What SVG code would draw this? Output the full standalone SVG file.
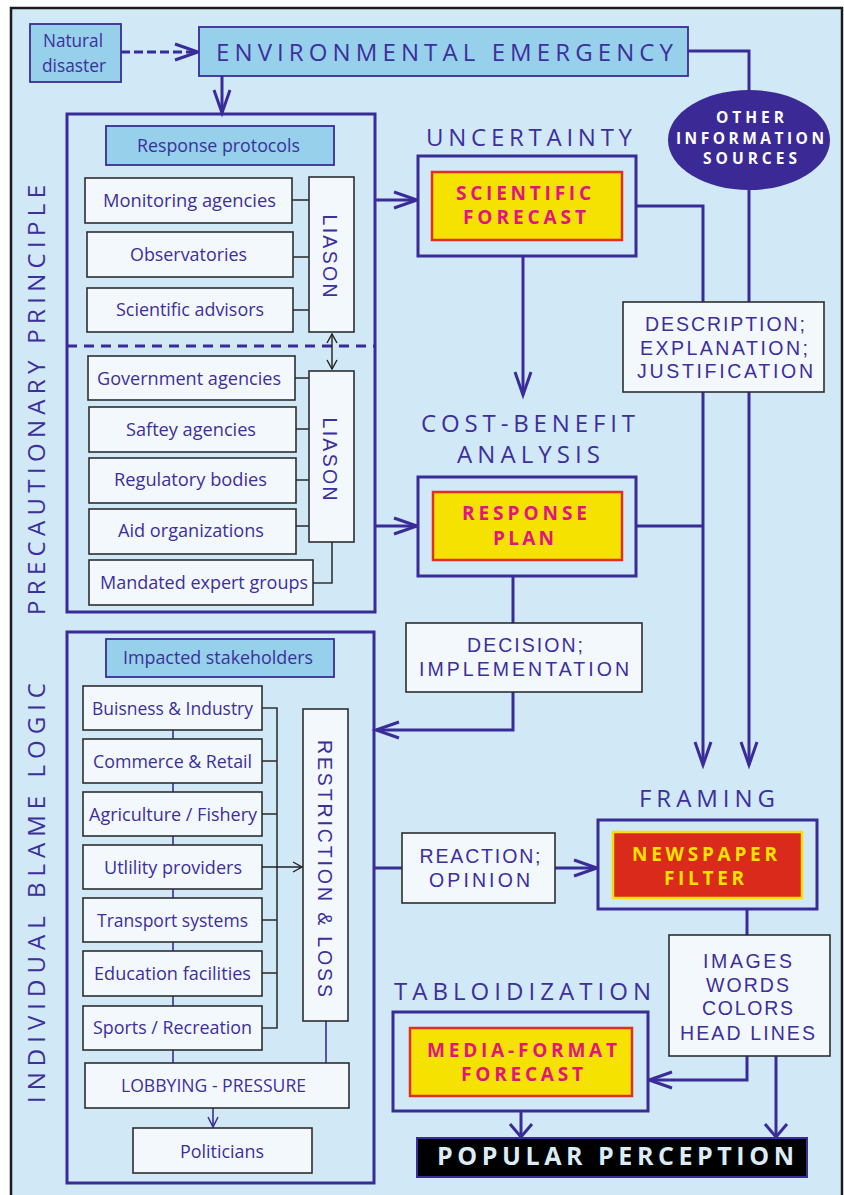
<svg xmlns="http://www.w3.org/2000/svg" width="844" height="1195" viewBox="0 0 844 1195">
  <style>
    .t { font-family: "Open Sans", "Liberation Sans", sans-serif; fill: #3d2f9c; font-size: 18.5px; text-anchor: middle; }
    .hd { font-size: 24px; }
    .cp { font-family: "Liberation Sans", "Open Sans", sans-serif; font-size: 19.5px; }
    .bd { font-weight: bold; }
    .mag { fill: #e2157f; font-size: 19px; }
    .ylw { fill: #f8e300; font-size: 19px; }
    .wht { fill: #ffffff; font-size: 15.5px; }
    .pop { fill: #dcecf7; font-size: 25px; }
    .ln { fill: none; stroke: #3a2c98; stroke-width: 3; }
    .lt { fill: none; stroke: #3a2c98; stroke-width: 1.6; }
    .gl { fill: none; stroke: #333333; stroke-width: 1.6; }
    .box { fill: #f3f8fd; stroke: #2e2e2e; stroke-width: 1.6; }
    .blue { fill: #96d0eb; stroke: #3a2c98; stroke-width: 1.8; }
    .frame { fill: #d1e8f6; stroke: #3a2c98; stroke-width: 3; }
    .yel { fill: #f6e200; stroke: #e0301f; stroke-width: 2.5; }
  </style>
  <defs>
    <marker id="arr" markerUnits="userSpaceOnUse" viewBox="-26 -11 28 22" refX="0" refY="0" markerWidth="28" markerHeight="22" orient="auto" overflow="visible">
      <path d="M-23,-8 L0,0 L-23,8" fill="none" stroke="#3a2c98" stroke-width="3"/>
    </marker>
    <marker id="arrw" markerUnits="userSpaceOnUse" viewBox="-16 -13 18 26" refX="0" refY="0" markerWidth="18" markerHeight="26" orient="auto" overflow="visible">
      <path d="M-13,-11 L0,0 L-13,11" fill="none" stroke="#3a2c98" stroke-width="3"/>
    </marker>
    <marker id="arrk" markerUnits="userSpaceOnUse" viewBox="-12 -7 14 14" refX="0" refY="0" markerWidth="14" markerHeight="14" orient="auto-start-reverse" overflow="visible">
      <path d="M-9,-5 L0,0 L-9,5" fill="none" stroke="#222222" stroke-width="1.4"/>
    </marker>
    <marker id="arrp" markerUnits="userSpaceOnUse" viewBox="-12 -7 14 14" refX="0" refY="0" markerWidth="14" markerHeight="14" orient="auto" overflow="visible">
      <path d="M-10,-5 L0,0 L-10,5" fill="none" stroke="#3a2c98" stroke-width="1.5"/>
    </marker>
  </defs>

  <!-- page frame -->
  <rect x="0" y="0" width="844" height="1195" fill="#ffffff"/>
  <rect x="11" y="8" width="831" height="1200" fill="#d1e8f6" stroke="#1c1c1c" stroke-width="2.5"/>

  <!-- side labels -->
  <text class="t hd" x="45" y="400" transform="rotate(-90 45 400)" textLength="430" lengthAdjust="spacing">PRECAUTIONARY PRINCIPLE</text>
  <text class="t hd" x="45" y="893" transform="rotate(-90 45 893)" textLength="420" lengthAdjust="spacing">INDIVIDUAL BLAME LOGIC</text>

  <!-- section headings -->
  <text class="t hd" x="529" y="146" textLength="206" lengthAdjust="spacing">UNCERTAINTY</text>
  <text class="t hd" x="528" y="432" textLength="214" lengthAdjust="spacing">COST-BENEFIT</text>
  <text class="t hd" x="528.5" y="463" textLength="143" lengthAdjust="spacing">ANALYSIS</text>
  <text class="t hd" x="707" y="807" textLength="136" lengthAdjust="spacing">FRAMING</text>
  <text class="t hd" x="522.5" y="1000" textLength="257" lengthAdjust="spacing">TABLOIDIZATION</text>

  <!-- connectors -->
  <g id="connectors">
    <line x1="121" y1="52" x2="198" y2="52" class="ln" stroke-dasharray="9 4" marker-end="url(#arr)"/>
    <line x1="222" y1="76" x2="222" y2="113" class="ln" marker-end="url(#arr)"/>
    <polyline points="688,51 749,51 749,91" class="ln"/>
    <line x1="749" y1="189" x2="749" y2="765" class="ln" marker-end="url(#arr)"/>
    <line x1="375" y1="200" x2="417" y2="200" class="ln" marker-end="url(#arr)"/>
    <polyline points="636,206 703,206 703,765" class="ln" marker-end="url(#arr)"/>
    <line x1="523" y1="256" x2="523" y2="395" class="ln" marker-end="url(#arr)"/>
    <line x1="375" y1="526" x2="417" y2="526" class="ln" marker-end="url(#arr)"/>
    <line x1="636" y1="526" x2="703" y2="526" class="ln"/>
    <line x1="513" y1="576" x2="513" y2="623" class="ln"/>
    <polyline points="513,692 513,730 376,730" class="ln" marker-end="url(#arr)"/>
    <line x1="374" y1="868" x2="402" y2="868" class="ln"/>
    <line x1="555" y1="868" x2="597" y2="868" class="ln" marker-end="url(#arr)"/>
    <line x1="747" y1="909" x2="747" y2="935" class="ln"/>
    <polyline points="747,1056 747,1080 649,1080" class="ln" marker-end="url(#arr)"/>
    <line x1="776" y1="1056" x2="776" y2="1137" class="ln" marker-end="url(#arrw)"/>
    <line x1="521" y1="1111" x2="521" y2="1137" class="ln" marker-end="url(#arrw)"/>

    <!-- agency ties to the liaison bars -->
    <line x1="67" y1="346" x2="375" y2="346" class="ln" stroke-width="2.5" stroke-dasharray="10 7"/>
    <line x1="292" y1="200" x2="309" y2="200" class="gl"/>
    <line x1="293" y1="257" x2="309" y2="257" class="gl"/>
    <line x1="293" y1="310" x2="309" y2="310" class="gl"/>
    <line x1="295" y1="378" x2="309" y2="378" class="gl"/>
    <line x1="296" y1="429" x2="309" y2="429" class="gl"/>
    <line x1="296" y1="480" x2="309" y2="480" class="gl"/>
    <line x1="296" y1="526" x2="309" y2="526" class="gl"/>
    <polyline points="313,583 332,583 332,542" class="gl"/>
    <line x1="332" y1="334" x2="332" y2="369" stroke="#222222" stroke-width="1.4" marker-start="url(#arrk)" marker-end="url(#arrk)"/>

    <!-- stakeholder ties -->
    <line x1="173" y1="730" x2="173" y2="1063" class="lt"/>
    <polyline points="262,708 277,708 277,1028 262,1028" class="gl"/>
    <line x1="262" y1="761" x2="277" y2="761" class="gl"/>
    <line x1="262" y1="814" x2="277" y2="814" class="gl"/>
    <line x1="262" y1="920" x2="277" y2="920" class="gl"/>
    <line x1="262" y1="973" x2="277" y2="973" class="gl"/>
    <line x1="262" y1="867" x2="302" y2="867" stroke="#222222" stroke-width="1.4" marker-end="url(#arrk)"/>
    <line x1="326" y1="1021" x2="326" y2="1063" class="lt"/>
    <line x1="213" y1="1108" x2="213" y2="1127" class="lt" marker-end="url(#arrp)"/>
  </g>

  <!-- nodes -->
  <g id="natural-disaster">
    <rect x="30" y="24" width="91" height="58" class="blue"/>
    <text class="t" x="73" y="47" textLength="60" lengthAdjust="spacingAndGlyphs">Natural</text>
    <text class="t" x="74" y="72" textLength="64" lengthAdjust="spacingAndGlyphs">disaster</text>
  </g>
  <g id="environmental-emergency">
    <rect x="199" y="27" width="489" height="49" class="blue" stroke-width="3"/>
    <text class="t hd" x="444.5" y="61" textLength="457" lengthAdjust="spacing">ENVIRONMENTAL  EMERGENCY</text>
  </g>

  <g id="precautionary-block">
    <rect x="67" y="114" width="308" height="498" fill="none" stroke="#3a2c98" stroke-width="3"/>
  </g>
  <g id="response-protocols">
    <rect x="106" y="126" width="228" height="39" class="blue"/>
    <text class="t" x="218.5" y="152" textLength="163" lengthAdjust="spacingAndGlyphs">Response protocols</text>
  </g>
  <g id="monitoring-agencies">
    <rect x="85" y="178" width="207" height="45" class="box"/>
    <text class="t" x="189.5" y="207" textLength="173" lengthAdjust="spacingAndGlyphs">Monitoring agencies</text>
  </g>
  <g id="observatories">
    <rect x="87" y="232" width="206" height="45" class="box"/>
    <text class="t" x="188.5" y="261" textLength="117" lengthAdjust="spacingAndGlyphs">Observatories</text>
  </g>
  <g id="scientific-advisors">
    <rect x="87" y="288" width="206" height="44" class="box"/>
    <text class="t" x="190" y="316" textLength="148" lengthAdjust="spacingAndGlyphs">Scientific advisors</text>
  </g>
  <g id="liason-science">
    <rect x="309" y="177" width="45" height="155" class="box"/>
    <text class="t cp" x="323" y="256" transform="rotate(90 323 256)" textLength="83" lengthAdjust="spacing">LIASON</text>
  </g>
  <g id="government-agencies">
    <rect x="88" y="356" width="207" height="44" class="box"/>
    <text class="t" x="189" y="385" textLength="184" lengthAdjust="spacingAndGlyphs">Government agencies</text>
  </g>
  <g id="saftey-agencies">
    <rect x="89" y="407" width="207" height="45" class="box"/>
    <text class="t" x="191" y="436" textLength="130" lengthAdjust="spacingAndGlyphs">Saftey agencies</text>
  </g>
  <g id="regulatory-bodies">
    <rect x="89" y="458" width="207" height="45" class="box"/>
    <text class="t" x="190.5" y="486" textLength="153" lengthAdjust="spacingAndGlyphs">Regulatory bodies</text>
  </g>
  <g id="aid-organizations">
    <rect x="89" y="509" width="207" height="45" class="box"/>
    <text class="t" x="191" y="537" textLength="146" lengthAdjust="spacingAndGlyphs">Aid organizations</text>
  </g>
  <g id="mandated-expert-groups">
    <rect x="89" y="560" width="224" height="45" class="box"/>
    <text class="t" x="204" y="589" textLength="208" lengthAdjust="spacingAndGlyphs">Mandated expert groups</text>
  </g>
  <g id="liason-government">
    <rect x="309" y="371" width="45" height="171" class="box"/>
    <text class="t cp" x="323" y="459" transform="rotate(90 323 459)" textLength="83" lengthAdjust="spacing">LIASON</text>
  </g>

  <g id="scientific-forecast">
    <rect x="418" y="156" width="218" height="100" class="frame"/>
    <rect x="432" y="172" width="190" height="68" class="yel"/>
    <text class="t bd mag" x="523.5" y="200" textLength="135" lengthAdjust="spacing">SCIENTIFIC</text>
    <text class="t bd mag" x="524.5" y="224" textLength="123" lengthAdjust="spacing">FORECAST</text>
  </g>
  <g id="other-information-sources">
    <ellipse cx="749" cy="140" rx="81" ry="50" fill="#3b2a95"/>
    <text class="t bd wht" x="750" y="123" textLength="68" lengthAdjust="spacing">OTHER</text>
    <text class="t bd wht" x="750" y="144" textLength="148" lengthAdjust="spacing">INFORMATION</text>
    <text class="t bd wht" x="750" y="164" textLength="94" lengthAdjust="spacing">SOURCES</text>
  </g>
  <g id="description">
    <rect x="623" y="302" width="201" height="90" class="box"/>
    <text class="t cp" x="725" y="331" textLength="160" lengthAdjust="spacing">DESCRIPTION;</text>
    <text class="t cp" x="724" y="355" textLength="168" lengthAdjust="spacing">EXPLANATION;</text>
    <text class="t cp" x="725" y="378" textLength="176" lengthAdjust="spacing">JUSTIFICATION</text>
  </g>
  <g id="response-plan">
    <rect x="418" y="477" width="218" height="99" class="frame"/>
    <rect x="433" y="492" width="189" height="68" class="yel"/>
    <text class="t bd mag" x="524.5" y="520" textLength="125" lengthAdjust="spacing">RESPONSE</text>
    <text class="t bd mag" x="523.5" y="545" textLength="61" lengthAdjust="spacing">PLAN</text>
  </g>
  <g id="decision">
    <rect x="406" y="623" width="236" height="69" class="box"/>
    <text class="t cp" x="525" y="652" textLength="116" lengthAdjust="spacing">DECISION;</text>
    <text class="t cp" x="524" y="676" textLength="210" lengthAdjust="spacing">IMPLEMENTATION</text>
  </g>

  <g id="blame-block">
    <rect x="67" y="632" width="307" height="551" fill="none" stroke="#3a2c98" stroke-width="3"/>
  </g>
  <g id="impacted-stakeholders">
    <rect x="106" y="639" width="228" height="38" class="blue"/>
    <text class="t" x="218" y="664" textLength="190" lengthAdjust="spacingAndGlyphs">Impacted stakeholders</text>
  </g>
  <g id="business-industry">
    <rect x="83" y="686" width="179" height="44" class="box"/>
    <text class="t" x="172.5" y="715" textLength="161" lengthAdjust="spacingAndGlyphs">Buisness &amp; Industry</text>
  </g>
  <g id="commerce-retail">
    <rect x="83" y="739" width="179" height="44" class="box"/>
    <text class="t" x="172.5" y="768" textLength="159" lengthAdjust="spacingAndGlyphs">Commerce &amp; Retail</text>
  </g>
  <g id="agriculture-fishery">
    <rect x="83" y="792" width="179" height="44" class="box"/>
    <text class="t" x="173" y="821" textLength="168" lengthAdjust="spacingAndGlyphs">Agriculture / Fishery</text>
  </g>
  <g id="utility-providers">
    <rect x="83" y="845" width="179" height="44" class="box"/>
    <text class="t" x="173" y="874" textLength="138" lengthAdjust="spacingAndGlyphs">Utlility providers</text>
  </g>
  <g id="transport-systems">
    <rect x="83" y="898" width="179" height="44" class="box"/>
    <text class="t" x="172.5" y="927" textLength="151" lengthAdjust="spacingAndGlyphs">Transport systems</text>
  </g>
  <g id="education-facilities">
    <rect x="83" y="951" width="179" height="45" class="box"/>
    <text class="t" x="172.5" y="980" textLength="157" lengthAdjust="spacingAndGlyphs">Education facilities</text>
  </g>
  <g id="sports-recreation">
    <rect x="83" y="1006" width="179" height="44" class="box"/>
    <text class="t" x="172.5" y="1034" textLength="159" lengthAdjust="spacingAndGlyphs">Sports / Recreation</text>
  </g>
  <g id="restriction-loss">
    <rect x="303" y="709" width="45" height="312" class="box"/>
    <text class="t cp" x="318" y="868.5" transform="rotate(90 318 868.5)" textLength="257" lengthAdjust="spacing">RESTRICTION &amp; LOSS</text>
  </g>
  <g id="lobbying-pressure">
    <rect x="85" y="1063" width="264" height="45" class="box"/>
    <text class="t" x="213.5" y="1092" textLength="185" lengthAdjust="spacingAndGlyphs">LOBBYING - PRESSURE</text>
  </g>
  <g id="politicians">
    <rect x="133" y="1128" width="179" height="45" class="box"/>
    <text class="t" x="222" y="1158" textLength="84" lengthAdjust="spacingAndGlyphs">Politicians</text>
  </g>

  <g id="reaction">
    <rect x="402" y="833" width="153" height="70" class="box"/>
    <text class="t cp" x="480" y="863" textLength="121" lengthAdjust="spacing">REACTION;</text>
    <text class="t cp" x="479.5" y="887" textLength="101" lengthAdjust="spacing">OPINION</text>
  </g>
  <g id="newspaper-filter">
    <rect x="598" y="820" width="219" height="89" class="frame"/>
    <rect x="613" y="832" width="189" height="66" fill="#da2a1c" stroke="#f9e000" stroke-width="2.5"/>
    <text class="t bd ylw" x="704.5" y="861" textLength="145" lengthAdjust="spacing">NEWSPAPER</text>
    <text class="t bd ylw" x="704" y="885" textLength="80" lengthAdjust="spacing">FILTER</text>
  </g>
  <g id="images-words">
    <rect x="669" y="935" width="161" height="121" class="box"/>
    <text class="t cp" x="747.5" y="968" textLength="89" lengthAdjust="spacing">IMAGES</text>
    <text class="t cp" x="747.5" y="992" textLength="83" lengthAdjust="spacing">WORDS</text>
    <text class="t cp" x="747.5" y="1015" textLength="91" lengthAdjust="spacing">COLORS</text>
    <text class="t cp" x="747.5" y="1040" textLength="135" lengthAdjust="spacing">HEAD LINES</text>
  </g>
  <g id="media-format-forecast">
    <rect x="393" y="1012" width="255" height="99" class="frame"/>
    <rect x="410" y="1028" width="222" height="68" class="yel"/>
    <text class="t bd mag" x="522" y="1057" textLength="190" lengthAdjust="spacing">MEDIA-FORMAT</text>
    <text class="t bd mag" x="522" y="1081" textLength="122" lengthAdjust="spacing">FORECAST</text>
  </g>
  <g id="popular-perception">
    <rect x="417" y="1138" width="390" height="39" fill="#000000" stroke="#3a2c98" stroke-width="2"/>
    <text class="t bd pop" x="615.5" y="1165" textLength="357" lengthAdjust="spacing">POPULAR  PERCEPTION</text>
  </g>
</svg>
